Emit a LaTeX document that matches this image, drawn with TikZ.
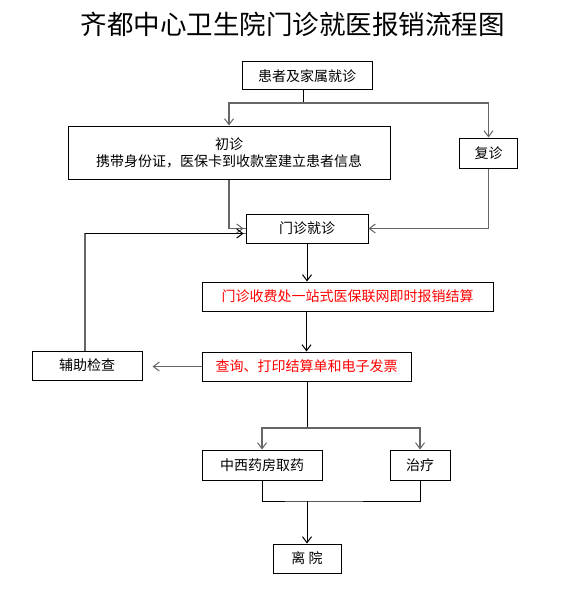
\documentclass[tikz,border=0pt]{standalone}
\usepackage{fontspec}
\setmainfont{Noto Sans CJK SC}
\usetikzlibrary{arrows.meta}
\definecolor{lgray}{HTML}{666666}
\tikzset{
  box/.style={draw=black, line width=1pt, inner sep=0pt, align=center, font=\fontsize{14}{17}\selectfont},
  redtext/.style={text=red},
  blk/.style={draw=black, line width=1pt},
  gry/.style={draw=lgray, line width=1.2pt},
  arr/.style={-{Straight Barb[length=6pt,width=9pt,line width=1pt]}},
}
\begin{document}
\begin{tikzpicture}[x=1pt,y=-1pt]
\useasboundingbox (0,0) rectangle (566,591);
\node[font=\fontsize{26.5}{26.5}\selectfont, inner sep=0pt] (title) at (292.5,24) {齐都中心卫生院门诊就医报销流程图};
\node[box, minimum width=130pt, minimum height=28pt] (a) at (307,76) {患者及家属就诊};
\node[box, minimum width=322pt, minimum height=53pt] (b) at (229,152.5) {初诊\\携带身份证，医保卡到收款室建立患者信息};
\node[box, minimum width=58pt, minimum height=30pt] (c) at (488.5,153) {复诊};
\node[box, minimum width=122pt, minimum height=29pt] (d) at (307,228.5) {门诊就诊};
\node[box, redtext, minimum width=291pt, minimum height=29pt] (e) at (347.5,296.5) {门诊收费处一站式医保联网即时报销结算};
\node[box, redtext, minimum width=209pt, minimum height=29pt] (f) at (306.5,366.5) {查询、打印结算单和电子发票};
\node[box, minimum width=110pt, minimum height=29pt] (g) at (87,365.5) {辅助检查};
\node[box, minimum width=120pt, minimum height=30pt] (h) at (262,465) {中西药房取药};
\node[box, minimum width=60pt, minimum height=30pt] (i) at (420,465) {治疗};
\node[box, minimum width=68pt, minimum height=29pt] (j) at (307,558.5) {离\ 院};
% top split
\coordinate (s1) at (303,103);
\draw[blk] ([xshift=-4pt]a.south) -- (s1);
\draw[gry,arr] (s1) -| (b.north);
\draw[gry,arr] (s1) -| (c.north);
% into outpatient
\draw[gry] (b.south) |- coordinate (bc) (d.west);
\draw[gry,arr,shorten >=2pt] (bc) -- (d.west);
\draw[gry,arr] (c.south) |- (d.east);
\draw[gry] ([xshift=-2pt]g.north) |- coordinate (lc) ([yshift=-5pt]d.west);
\draw[blk,arr,shorten >=2pt] (lc) -- ([yshift=-5pt]d.west);
% main flow
\draw[blk,arr] (d.south) -- (d.south |- e.north);
\draw[blk,arr] (e.south -| f.north) -- (f.north);
\draw[gry,arr,shorten >=10pt] (f.west) -- (f.west -| g.east);
% branch to pharmacy / treatment
\coordinate (s2) at (307,428);
\draw[blk] ([xshift=1pt]f.south) -- ([xshift=1pt]f.south |- s2);
\draw[gry,arr] (s2) -| (h.north);
\draw[gry,arr] (s2) -| (i.north);
% merge to leave
\coordinate (s3) at (307,501);
\draw[blk] (h.south) |- (s3) -| (i.south);
\draw[blk,arr] (s3) -- (j.north);
\end{tikzpicture}
\end{document}
